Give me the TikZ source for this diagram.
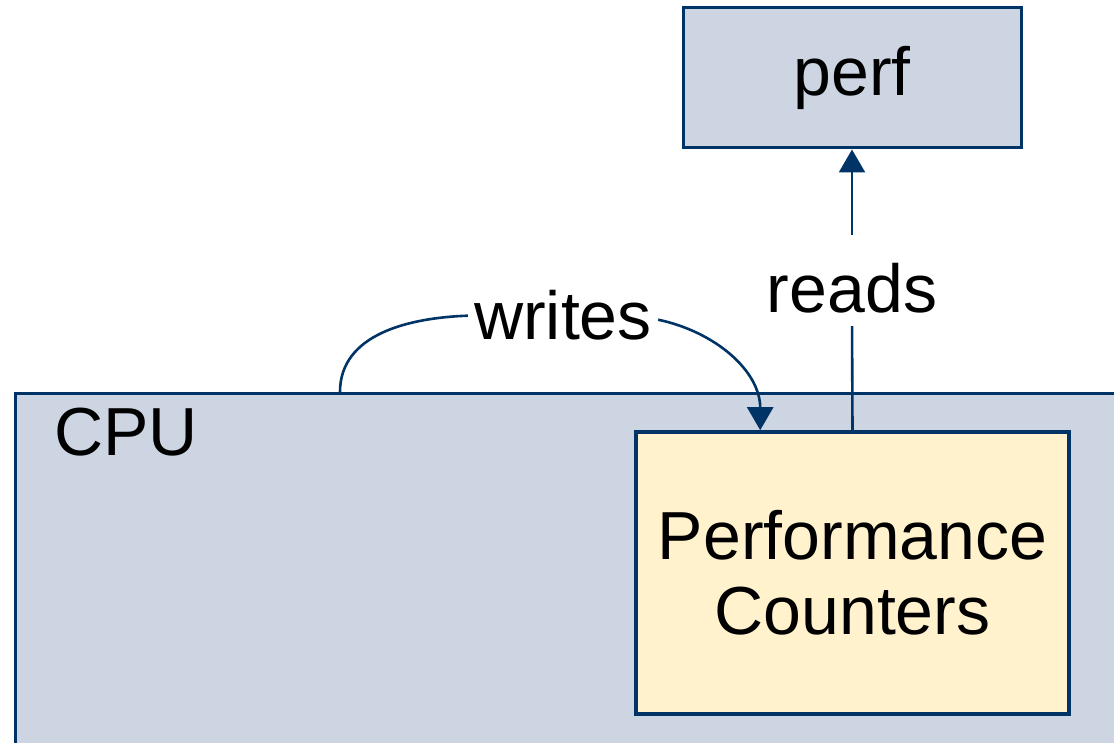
\documentclass[tikz,border=0pt]{standalone}
\usepackage{fontspec}
\setmainfont{Liberation Sans}
\usetikzlibrary{arrows.meta, positioning, calc}
\definecolor{hwblue}{RGB}{0, 51, 102}
\definecolor{hwgray}{RGB}{205, 213, 226}
\definecolor{hwyellow}{RGB}{255, 242, 204}

\begin{document}
\begin{tikzpicture}[
		% 1 unit = 1 px of the 1114x743 frame
		x=0.5pt, y=-0.5pt,
		font=\fontsize{34}{37.5}\selectfont,
		% styles
		chip/.style={rectangle, draw=hwblue, line width=1.5pt, fill=hwgray, anchor=north west, minimum width=563pt, minimum height=184pt},
		tool/.style={rectangle, draw=hwblue, line width=1.5pt, fill=hwgray, minimum width=169pt, minimum height=70pt},
		unit/.style={rectangle, draw=hwblue, line width=1.8pt, fill=hwyellow, align=center, minimum width=216.5pt, minimum height=141pt},
		lbl/.style={inner sep=0pt},
		wire/.style={hwblue, line width=1.3pt},
		arrow/.style={wire, -{Triangle[length=11.5pt, width=13pt]}}
		]
		
		\useasboundingbox (0,0) rectangle (1114,743);
		
		% ==========================================
		% Boxes
		% ==========================================
		\node[chip] (cpu) at (14,392) {};
		\node[lbl, anchor=base west] (cpulabel) at (54,455) {CPU};
		
		\node[unit] (cnt) at (852.5,573) {Performance\\Counters};
		
		\node[tool] (perf) at (852,78) {perf};
		
		% ==========================================
		% reads: counters -> perf
		% ==========================================
		\node[lbl, anchor=base] (reads) at (852,313) {reads};
		\draw[wire, shorten >=6pt] (cnt.north) -- (reads.south);
		\draw[arrow, shorten <=14pt] (reads.north) -- (perf.south);
		
		% ==========================================
		% writes: cpu -> counters
		% ==========================================
		\node[lbl, inner xsep=3pt, anchor=base] (writes) at (563,340) {writes};
		\coordinate (wsrc) at (340,392);
		\coordinate[xshift=63pt] (wdst) at (cnt.north west);
		
		\draw[wire] (wsrc) to[out=90, in=182] (writes.west);
		\draw[arrow] ([yshift=-2pt]writes.east) to[out=-12, in=90] (wdst);
		
	\end{tikzpicture}
\end{document}
